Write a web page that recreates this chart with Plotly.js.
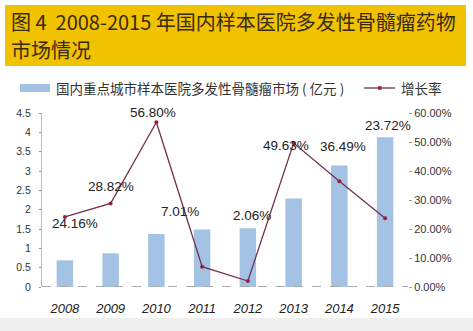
<!DOCTYPE html>
<html><head><meta charset="utf-8">
<script src="https://cdn.plot.ly/plotly-3.0.1.min.js"></script>
<style>html,body{margin:0;padding:0;background:#fff;}#chart{width:473px;height:331px;}</style>
</head><body><div id="chart"></div>
<script>
// ---- data ----
const years = ['2008','2009','2010','2011','2012','2013','2014','2015'];
const marketValues = [0.69, 0.87, 1.37, 1.49, 1.52, 2.29, 3.14, 3.87]; // 亿元
const growthRates = [24.16, 28.82, 56.80, 7.01, 2.06, 49.63, 36.49, 23.72]; // %
const leftTicks = [0, 0.5, 1, 1.5, 2, 2.5, 3, 3.5, 4, 4.5];
const rightTicks = [0, 10, 20, 30, 40, 50, 60];
const rightTickLabels = ['0.00%','10.00%','20.00%','30.00%','40.00%','50.00%','60.00%'];
const titleLine1 = '图 4  2008-2015 年国内样本医院多发性骨髓瘤药物';
const titleLine2 = '市场情况';
const barName = '国内重点城市样本医院多发性骨髓瘤市场 ( 亿元 )';
const lineName = '增长率';

// label pixel offsets (style only)
const labelDX = [10, 0, -3, -22, 4, -8, 4, 3];
const labelDY = [-7, 17, 10, 55, 66, -2, 35, 93];

const barColor = '#A4C2E3';
const lineColor = '#74304F';
const markerColor = '#9A1F3C';

const bar = {
  type: 'bar', x: years, y: marketValues, name: barName,
  marker: {color: barColor}, width: 0.36, yaxis: 'y', showlegend: false
};
const line = {
  type: 'scatter', mode: 'lines+markers', x: years, y: growthRates, name: lineName,
  yaxis: 'y2', line: {color: lineColor, width: 1.3},
  marker: {color: markerColor, size: 4}, showlegend: false
};

// pixel -> paper helpers (plot area: x 42..408, y 113..287)
const px = v => (v - 42) / 366;
const py = v => (287 - v) / 174;

const annotations = growthRates.map((v, i) => ({
  x: i, y: v, xref: 'x', yref: 'y2',
  text: v.toFixed(2) + '%', showarrow: false,
  xshift: labelDX[i], yshift: labelDY[i],
  font: {family: 'Liberation Sans', size: 13.5, color: '#222222'}
}));
const titleFont = {family: 'Noto Sans CJK SC', size: 20, color: '#3A2A0C'};
annotations.push({
  xref: 'paper', yref: 'paper', x: px(10), y: py(21), xanchor: 'left', yanchor: 'middle',
  align: 'left', showarrow: false, text: titleLine1, font: titleFont, borderpad: 0
});
annotations.push({
  xref: 'paper', yref: 'paper', x: px(10), y: py(49), xanchor: 'left', yanchor: 'middle',
  align: 'left', showarrow: false, text: titleLine2, font: titleFont, borderpad: 0
});
// custom legend texts
annotations.push({
  xref: 'paper', yref: 'paper', x: px(54), y: py(88), xanchor: 'left', yanchor: 'middle',
  showarrow: false, text: barName,
  font: {family: 'Noto Sans CJK SC', size: 13.5, color: '#333333'}
});
annotations.push({
  xref: 'paper', yref: 'paper', x: px(399), y: py(88), xanchor: 'left', yanchor: 'middle',
  showarrow: false, text: lineName,
  font: {family: 'Noto Sans CJK SC', size: 13.5, color: '#333333'}
});

const layout = {
  width: 473, height: 331,
  margin: {l: 42, r: 65, t: 113, b: 44},
  paper_bgcolor: '#ffffff', plot_bgcolor: '#ffffff',
  showlegend: false,
  xaxis: {type: 'category', showgrid: false, showline: false, zeroline: false,
    ticks: 'outside', ticklen: 9, tickcolor: 'rgba(0,0,0,0)',
    tickfont: {family: 'Liberation Sans, Arial, sans-serif', size: 13, style: 'italic', color: '#222'},
    range: [-0.5, 7.5]},
  yaxis: {range: [0, 4.5], tickvals: leftTicks, ticktext: leftTicks.map(String),
    showgrid: false, zeroline: false, showline: true, linecolor: '#BBBBBB', linewidth: 1,
    ticks: 'outside', ticklen: 2, tickcolor: '#999', ticklabelstandoff: 6,
    tickfont: {family: 'Liberation Sans, Arial, sans-serif', size: 10.5, color: '#333'}},
  yaxis2: {range: [0, 60], overlaying: 'y', side: 'right', tickvals: rightTicks, ticktext: rightTickLabels,
    showgrid: false, zeroline: false, showline: false,
    ticks: 'outside', ticklen: 3, tickcolor: '#999',
    tickfont: {family: 'Liberation Sans, Arial, sans-serif', size: 11, color: '#333'}},
  shapes: [
    {type: 'rect', xref: 'paper', yref: 'paper', x0: px(5), x1: px(466),
     y0: py(66), y1: py(5), fillcolor: '#F1C200', line: {width: 0}, layer: 'below'},
    {type: 'rect', xref: 'paper', yref: 'paper', x0: px(0), x1: px(473),
     y0: py(331), y1: py(318), fillcolor: '#EFEFEF', line: {width: 0}, layer: 'below'},
    {type: 'line', xref: 'paper', yref: 'y', x0: 0, x1: 1, y0: 0, y1: 0,
     line: {color: '#AAAAAA', width: 2, dash: 'dash'}},
    // legend swatches
    {type: 'rect', xref: 'paper', yref: 'paper', x0: px(20), x1: px(50), y0: py(92), y1: py(84),
     fillcolor: barColor, line: {width: 0}},
    {type: 'line', xref: 'paper', yref: 'paper', x0: px(364), x1: px(395), y0: py(88), y1: py(88),
     line: {color: lineColor, width: 1.3}},
    {type: 'rect', xref: 'paper', yref: 'paper', x0: px(378), x1: px(381.5), y0: py(89.8), y1: py(86.2),
     fillcolor: markerColor, line: {width: 0}}
  ],
  annotations: annotations
};

Plotly.newPlot('chart', [bar, line], layout, {displayModeBar: false, staticPlot: true});
</script></body></html>
